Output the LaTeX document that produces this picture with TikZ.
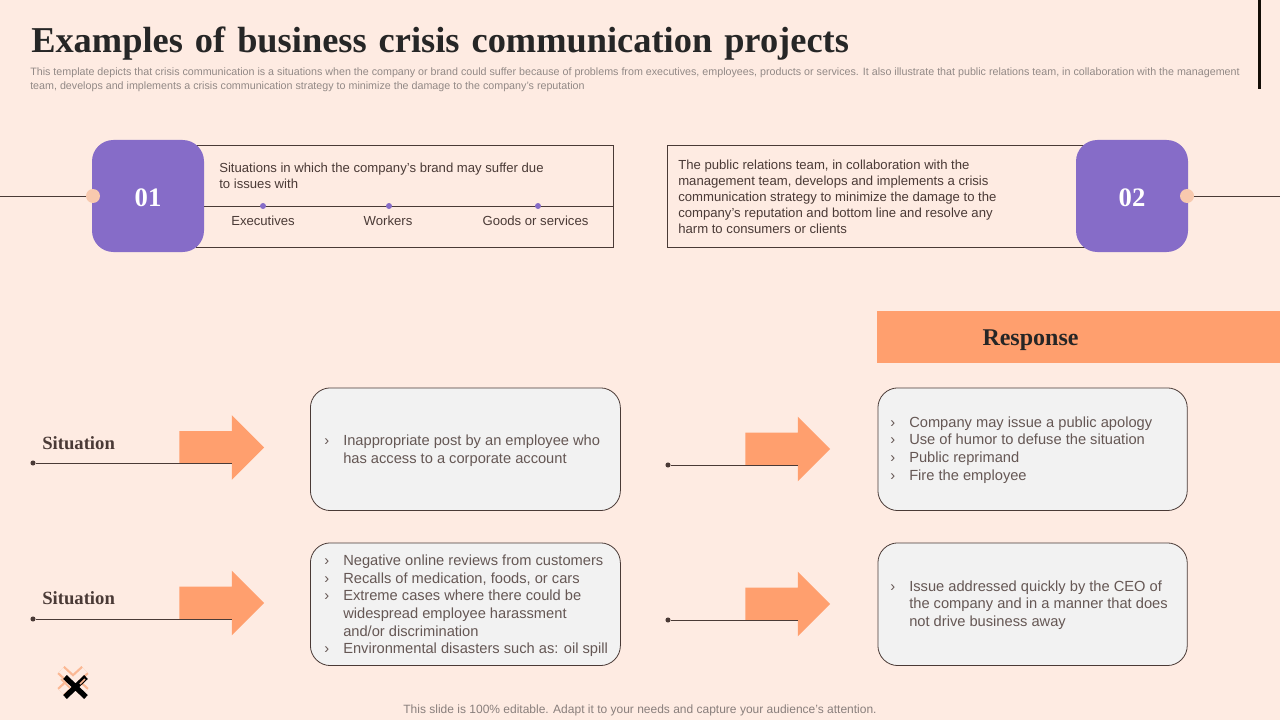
\documentclass[tikz,border=0pt]{standalone}
\usepackage{fontspec}
\setmainfont{Liberation Sans}
\newfontfamily\titlefont{Liberation Serif}
\usetikzlibrary{shapes.arrows}
\definecolor{slidebg}{HTML}{FEEBE2}
\definecolor{boxpurple}{HTML}{866CC8}
\definecolor{boxorange}{HTML}{FF9F6E}
\definecolor{boxgray}{HTML}{F2F2F2}
\definecolor{linebrown}{HTML}{4A3A36}
\definecolor{knobpeach}{HTML}{F8C9AE}
\newcommand{\bul}{\makebox[14.25pt][l]{›}}
\newcommand{\nobul}{\hspace*{14.25pt}}
\tikzset{
    numbox/.style={fill=boxpurple,rounded corners=16pt,minimum width=84pt,minimum height=84pt,text=white,text height=15.7pt,text depth=0pt,font=\titlefont\bfseries\fontsize{20}{24}\selectfont},
    knob/.style={circle,fill=knobpeach,minimum size=10.5pt,inner sep=0pt},
    tick/.style={circle,fill=boxpurple,minimum size=4.5pt,inner sep=0pt},
    enddot/.style={circle,fill=linebrown,minimum size=3.8pt,inner sep=0pt},
    infobox/.style={draw=linebrown,fill=boxgray,rounded corners=15pt,line width=.6pt,minimum height=92pt,anchor=north west,inner sep=0pt},
    bodytext/.style={anchor=west,align=left,inner sep=0pt,text=linebrown!85,font=\fontsize{11}{13.2}\selectfont},
    smalltext/.style={anchor=west,align=left,inner sep=0pt,text=linebrown,font=\fontsize{9.85}{12}\selectfont},
    headtext/.style={anchor=west,inner sep=0pt,text=linebrown,font=\titlefont\bfseries\fontsize{14}{16}\selectfont},
    bigarrow/.style={single arrow,fill=boxorange,minimum height=63.6pt,inner sep=12pt,single arrow head extend=12pt,anchor=west},
    conn/.style={draw=linebrown,line width=.7pt}
}
\begin{document}
\begin{tikzpicture}[x=.75pt,y=-.75pt]
    \fill[slidebg] (0,0) rectangle (1280,720);
    \useasboundingbox (0,0) rectangle (1280,720);
    \fill[black!90!brown] (1258,0) rectangle (1261,89);
    %Title and description
    \node[anchor=west,inner sep=0pt,text=black!85,font=\titlefont\bfseries\fontsize{27.3}{30}\selectfont] (title) at (31,44) {\spaceskip=9pt\relax Examples of business crisis communication projects};
    \node[anchor=north west,align=left,inner sep=0pt,text=linebrown!60,font=\fontsize{8.03}{10.5}\selectfont] (descr) at (30,67) {This template depicts that crisis communication is a situations when the company or brand could suffer because of problems from executives, employees, products or services. It also illustrate that public relations team, in collaboration with the management\\team, develops and implements a crisis communication strategy to minimize the damage to the company's reputation};
    %Upper left panel
    \draw[conn] (196,145.5) rectangle (613,247);
    \coordinate (rule1) at (613,206);
    \coordinate (lead1) at (0,196);
    \node[numbox] (num1) at (148,196) {01};
    \node[knob] (knob1) at (93,196) {};
    \draw[conn] (lead1) -- (knob1);
    \draw[conn] (num1.east |- rule1) -- (rule1);
    \node[smalltext] (sit) at (219,176) {Situations in which the company's brand may suffer due\\to issues with};
    \node[tick] (tick1) at (263,206) {};
    \node[tick] (tick2) at (389,206) {};
    \node[tick] (tick3) at (538,206) {};
    \node[smalltext,anchor=center] (exec) at (263,220.5) {Executives};
    \node[smalltext,anchor=center] (work) at (388,220.5) {Workers};
    \node[smalltext,anchor=center] (goods) at (535.5,220.5) {Goods or services};
    %Upper right panel
    \draw[conn] (667,145.5) rectangle (1085,247);
    \coordinate (lead2) at (1280,196);
    \node[numbox] (num2) at (1132,196) {02};
    \node[knob] (knob2) at (1187,196) {};
    \draw[conn] (knob2) -- (lead2);
    \node[smalltext] (pr) at (678,196.5) {The public relations team, in collaboration with the\\management team, develops and implements a crisis\\communication strategy to minimize the damage to the\\company's reputation and bottom line and resolve any\\harm to consumers or clients};
    %Response banner
    \fill[boxorange] (877,311) rectangle (1280,362.5);
    \node[inner sep=0pt,text=black!85,font=\titlefont\bfseries\fontsize{18}{20}\selectfont] (resp) at (1030.5,340) {Response};
    %First row
    \node[headtext] (sit1) at (42,443.5) {Situation};
    \node[enddot] (dot1) at (33,463) {};
    \node[bigarrow] (arrow1) at (179,447.5) {};
    \coordinate (end1) at (232,463);
    \draw[conn] (dot1) -- (end1);
    \node[infobox,minimum width=232.5pt] (box1) at (310,387.5) {};
    \node[bodytext] (text1) at (324,451) {\bul Inappropriate post by an employee who\\\nobul has access to a corporate account};
    \node[enddot] (dot2) at (668,465) {};
    \node[bigarrow] (arrow2) at (745,449) {};
    \coordinate (end2) at (798,465);
    \draw[conn] (dot2) -- (end2);
    \node[infobox,minimum width=232pt] (box2) at (877.5,387.5) {};
    \node[bodytext] (text2) at (890,450) {\bul Company may issue a public apology\\\bul Use of humor to defuse the situation\\\bul Public reprimand\\\bul Fire the employee};
    %Second row
    \node[headtext] (sit2) at (42,598.5) {Situation};
    \node[enddot] (dot3) at (33,619) {};
    \node[bigarrow] (arrow3) at (179,603) {};
    \coordinate (end3) at (232,619);
    \draw[conn] (dot3) -- (end3);
    \node[infobox,minimum width=232.5pt] (box3) at (310,542.5) {};
    \node[bodytext] (text3) at (324,606) {\bul Negative online reviews from customers\\\bul Recalls of medication, foods, or cars\\\bul Extreme cases where there could be\\\nobul widespread employee harassment\\\nobul and/or discrimination\\\bul Environmental disasters such as: oil spill};
    \node[enddot] (dot4) at (668,620) {};
    \node[bigarrow] (arrow4) at (745,604) {};
    \coordinate (end4) at (798,620);
    \draw[conn] (dot4) -- (end4);
    \node[infobox,minimum width=232pt] (box4) at (877.5,542.5) {};
    \node[bodytext] (text4) at (890,605) {\bul Issue addressed quickly by the CEO of\\\nobul the company and in a manner that does\\\nobul not drive business away};
    %Small cross mark
    \draw[knobpeach!60!boxorange,line width=8pt] (61,670) -- (85,692) (85,670) -- (61,692);
    \draw[slidebg,line width=4.6pt] (61,670) -- (85,692) (85,670) -- (61,692);
    \draw[black,line width=4pt] (65,677) -- (86,697) (86,677) -- (65,697);
    \draw[knobpeach!60!boxorange,line width=1.2pt] (61,679) -- (70,688) (85,679) -- (80,684);
    %Footer
    \node[inner sep=0pt,text=linebrown!65,font=\fontsize{9}{11}\selectfont] (foot) at (640,710) {This slide is 100\% editable. Adapt it to your needs and capture your audience's attention.};
\end{tikzpicture}
\end{document}
